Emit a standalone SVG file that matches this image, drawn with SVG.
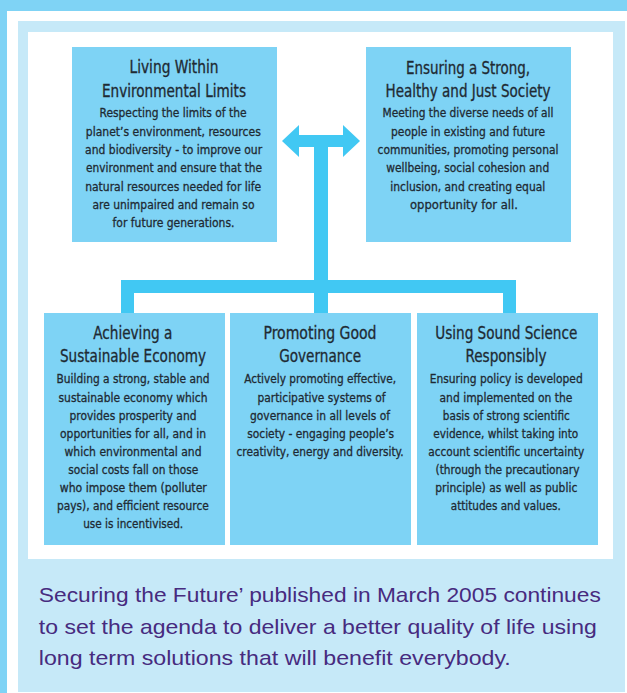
<svg xmlns="http://www.w3.org/2000/svg" width="627" height="693" viewBox="0 0 627 693">
<style>
.box{fill:#7ed3f5}
.conn{fill:#41c8f3}
.t{font-family:"Liberation Sans Narrow","DejaVu Sans Condensed","Liberation Sans",Arial,sans-serif;fill:#1e2a33;text-anchor:middle;stroke:#1e2a33;stroke-width:0.3}
.h{font-size:17px}
.b{font-size:13px}
.foot{font-family:"Liberation Sans",Arial,sans-serif;font-size:21px;fill:#472b7f}
</style>
<g id="frame">
<rect x="0" y="0" width="627" height="693" fill="#ffffff"/>
<rect x="0" y="0" width="627" height="11" fill="#7fd3f5"/>
<rect x="0" y="0" width="7" height="693" fill="#7fd3f5"/>
<rect x="18" y="21" width="607" height="671" fill="#c6e9f8"/>
<rect x="28" y="32" width="585" height="527" fill="#ffffff"/>
</g>
<g id="connectors">
<path class="conn" d="M282,141 L299,125 L299,135 L343,135 L343,125 L360,141 L343,157 L343,147 L328,147 L328,313 L314,313 L314,147 L299,147 L299,157 Z"/>
<rect class="conn" x="121" y="280" width="395" height="13"/>
<rect class="conn" x="121" y="280" width="13" height="33"/>
<rect class="conn" x="503" y="280" width="13" height="33"/>
</g>
<g id="node-environment">
<rect class="box" x="72" y="47" width="205" height="195"/>
<text class="t h" x="174" y="73.3" textLength="89" lengthAdjust="spacingAndGlyphs">Living Within</text>
<text class="t h" x="174" y="96.7" textLength="144" lengthAdjust="spacingAndGlyphs">Environmental Limits</text>
<text class="t b" x="173" y="117.3" textLength="147" lengthAdjust="spacingAndGlyphs">Respecting the limits of the</text>
<text class="t b" x="173.3" y="135.7" textLength="175" lengthAdjust="spacingAndGlyphs">planet’s environment, resources</text>
<text class="t b" x="173.6" y="154" textLength="177" lengthAdjust="spacingAndGlyphs">and biodiversity - to improve our</text>
<text class="t b" x="174.1" y="172.3" textLength="176" lengthAdjust="spacingAndGlyphs">environment and ensure that the</text>
<text class="t b" x="173.2" y="190.7" textLength="176" lengthAdjust="spacingAndGlyphs">natural resources needed for life</text>
<text class="t b" x="173.5" y="209" textLength="162" lengthAdjust="spacingAndGlyphs">are unimpaired and remain so</text>
<text class="t b" x="173.5" y="226.7" textLength="122" lengthAdjust="spacingAndGlyphs">for future generations.</text>
</g>
<g id="node-society">
<rect class="box" x="366" y="47" width="205" height="195"/>
<text class="t h" x="468" y="74.3" textLength="124" lengthAdjust="spacingAndGlyphs">Ensuring a Strong,</text>
<text class="t h" x="468" y="97.3" textLength="165" lengthAdjust="spacingAndGlyphs">Healthy and Just Society</text>
<text class="t b" x="468" y="117.3" textLength="171" lengthAdjust="spacingAndGlyphs">Meeting the diverse needs of all</text>
<text class="t b" x="468" y="135.7" textLength="154" lengthAdjust="spacingAndGlyphs">people in existing and future</text>
<text class="t b" x="468" y="154" textLength="181" lengthAdjust="spacingAndGlyphs">communities, promoting personal</text>
<text class="t b" x="467.7" y="172.3" textLength="163" lengthAdjust="spacingAndGlyphs">wellbeing, social cohesion and</text>
<text class="t b" x="467.8" y="190.7" textLength="155" lengthAdjust="spacingAndGlyphs">inclusion, and creating equal</text>
<text class="t b" x="464" y="209" textLength="108" lengthAdjust="spacingAndGlyphs">opportunity for all.</text>
</g>
<g id="node-economy">
<rect class="box" x="44" y="313" width="181" height="232"/>
<text class="t h" x="132.8" y="339" textLength="79" lengthAdjust="spacingAndGlyphs">Achieving a</text>
<text class="t h" x="133" y="362" textLength="146" lengthAdjust="spacingAndGlyphs">Sustainable Economy</text>
<text class="t b" x="133" y="383.3" textLength="153" lengthAdjust="spacingAndGlyphs">Building a strong, stable and</text>
<text class="t b" x="133" y="401.7" textLength="149" lengthAdjust="spacingAndGlyphs">sustainable economy which</text>
<text class="t b" x="133" y="420" textLength="127" lengthAdjust="spacingAndGlyphs">provides prosperity and</text>
<text class="t b" x="133" y="437.7" textLength="146" lengthAdjust="spacingAndGlyphs">opportunities for all, and in</text>
<text class="t b" x="133" y="456" textLength="137" lengthAdjust="spacingAndGlyphs">which environmental and</text>
<text class="t b" x="133.2" y="473.7" textLength="130" lengthAdjust="spacingAndGlyphs">social costs fall on those</text>
<text class="t b" x="133.3" y="491.7" textLength="147" lengthAdjust="spacingAndGlyphs">who impose them (polluter</text>
<text class="t b" x="132.9" y="510" textLength="152" lengthAdjust="spacingAndGlyphs">pays), and efficient resource</text>
<text class="t b" x="133.2" y="527.7" textLength="100" lengthAdjust="spacingAndGlyphs">use is incentivised.</text>
</g>
<g id="node-governance">
<rect class="box" x="230" y="313" width="181" height="232"/>
<text class="t h" x="320" y="339" textLength="113" lengthAdjust="spacingAndGlyphs">Promoting Good</text>
<text class="t h" x="320.2" y="362" textLength="82" lengthAdjust="spacingAndGlyphs">Governance</text>
<text class="t b" x="320.2" y="383.3" textLength="152" lengthAdjust="spacingAndGlyphs">Actively promoting effective,</text>
<text class="t b" x="321.5" y="401.7" textLength="128" lengthAdjust="spacingAndGlyphs">participative systems of</text>
<text class="t b" x="320" y="420" textLength="140" lengthAdjust="spacingAndGlyphs">governance in all levels of</text>
<text class="t b" x="320.7" y="437.7" textLength="147" lengthAdjust="spacingAndGlyphs">society - engaging people’s</text>
<text class="t b" x="320" y="456" textLength="167" lengthAdjust="spacingAndGlyphs">creativity, energy and diversity.</text>
</g>
<g id="node-science">
<rect class="box" x="417" y="313" width="181" height="232"/>
<text class="t h" x="506.3" y="339" textLength="142" lengthAdjust="spacingAndGlyphs">Using Sound Science</text>
<text class="t h" x="506" y="362" textLength="81" lengthAdjust="spacingAndGlyphs">Responsibly</text>
<text class="t b" x="506.2" y="383.3" textLength="153" lengthAdjust="spacingAndGlyphs">Ensuring policy is developed</text>
<text class="t b" x="506" y="401.7" textLength="133" lengthAdjust="spacingAndGlyphs">and implemented on the</text>
<text class="t b" x="506.3" y="420" textLength="127" lengthAdjust="spacingAndGlyphs">basis of strong scientific</text>
<text class="t b" x="505.8" y="437.7" textLength="145" lengthAdjust="spacingAndGlyphs">evidence, whilst taking into</text>
<text class="t b" x="506.2" y="456" textLength="156" lengthAdjust="spacingAndGlyphs">account scientific uncertainty</text>
<text class="t b" x="507.5" y="473.7" textLength="144" lengthAdjust="spacingAndGlyphs">(through the precautionary</text>
<text class="t b" x="506.3" y="491.7" textLength="142" lengthAdjust="spacingAndGlyphs">principle) as well as public</text>
<text class="t b" x="505.8" y="510" textLength="110" lengthAdjust="spacingAndGlyphs">attitudes and values.</text>
</g>
<g id="caption">
<text class="foot" x="38.8" y="601.7" textLength="562" lengthAdjust="spacingAndGlyphs">Securing the Future’ published in March 2005 continues</text>
<text class="foot" x="38.8" y="633.5" textLength="558" lengthAdjust="spacingAndGlyphs">to set the agenda to deliver a better quality of life using</text>
<text class="foot" x="38.8" y="665.3" textLength="472" lengthAdjust="spacingAndGlyphs">long term solutions that will benefit everybody.</text>
</g>
</svg>
